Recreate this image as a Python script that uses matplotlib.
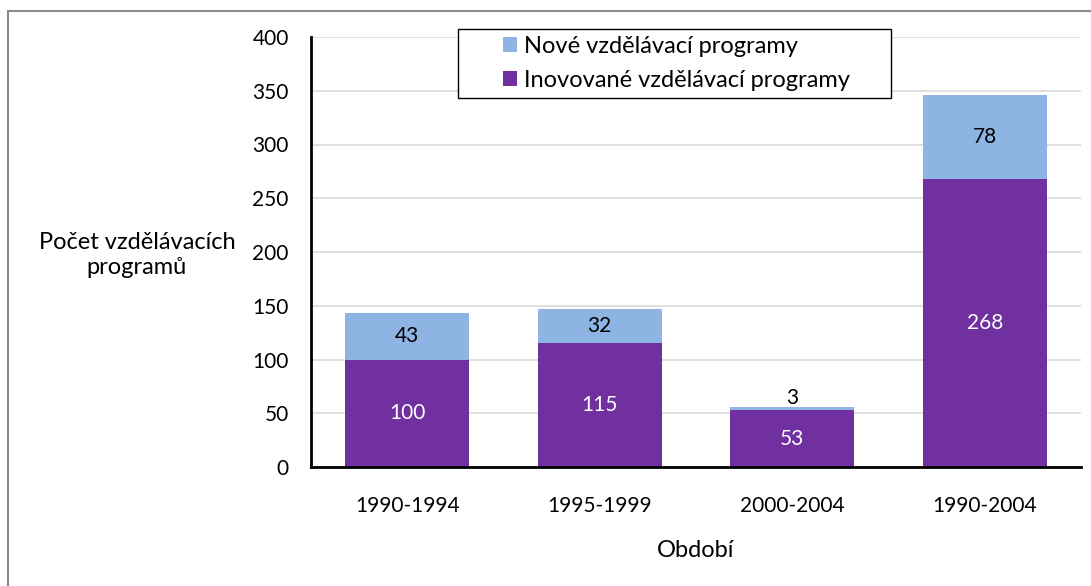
import matplotlib.pyplot as plt
from matplotlib.patches import Rectangle
import numpy as np

plt.rcParams['font.family'] = ['Lato', 'DejaVu Sans']

# data
obdobi = ['1990-1994', '1995-1999', '2000-2004', '1990-2004']
inovovane = [100, 115, 53, 268]
nove = [43, 32, 3, 78]

purple = '#7030A0'
blue = '#8EB4E3'
W, H = 1091, 586

fig = plt.figure(figsize=(W / 100, H / 100), dpi=100)
ax = fig.add_axes([311 / W, 1 - 467 / H, 770 / W, 430 / H])

x = np.arange(len(obdobi))
w = 0.645
b1 = ax.bar(x, inovovane, w, color=purple, label='Inovované vzdělávací programy', zorder=3)
b2 = ax.bar(x, nove, w, bottom=inovovane, color=blue, label='Nové vzdělávací programy', zorder=3)

for xi, lo, hi in zip(x, inovovane, nove):
    ax.text(xi, lo / 2, str(lo), ha='center', va='center', color='white', fontsize=15, zorder=4)
    if hi < 10:
        # too small to fit inside, Excel pushes it just above the bar
        ax.text(xi, lo + hi - 1.5, str(hi), ha='center', va='bottom', color='black', fontsize=15, zorder=4)
    else:
        ax.text(xi, lo + hi / 2, str(hi), ha='center', va='center', color='black', fontsize=15, zorder=4)

ax.set_xlim(-0.5, len(obdobi) - 0.5)
ax.set_ylim(0, 400)
ax.set_yticks(range(0, 401, 50))
ax.set_xticks(x)
ax.set_xticklabels(obdobi)
ax.tick_params(axis='both', length=0, labelsize=15)
ax.tick_params(axis='y', pad=16)
ax.tick_params(axis='x', pad=21)
ax.yaxis.grid(True, color='#D9D9D9', linewidth=1.2, zorder=0)
ax.set_axisbelow(True)

for s in ['top', 'right']:
    ax.spines[s].set_visible(False)
for s in ['left', 'bottom']:
    ax.spines[s].set_linewidth(2)
    ax.spines[s].set_color('black')
    ax.spines[s].set_zorder(5)

ax.set_xlabel('Období', fontsize=17, labelpad=17)
fig.text(137 / W, 1 - 255 / H, 'Počet vzdělávacích\nprogramů', ha='center', va='center',
         fontsize=17, linespacing=1.25)

# legend box drawn separately, entries placed inside it
fig.patches.append(Rectangle((458 / W, 1 - 98 / H), 433 / W, 69 / H, transform=fig.transFigure,
                             facecolor='white', edgecolor='black', linewidth=1, zorder=6))
leg = fig.legend(handles=[b2, b1], loc='upper left',
                 bbox_to_anchor=(503 / W, 1 - 36 / H), bbox_transform=fig.transFigure,
                 fontsize=17, frameon=False,
                 handlelength=0.6, handleheight=0.6, handletextpad=0.3, borderpad=0,
                 labelspacing=0.56, borderaxespad=0)
leg.set_zorder(7)

# outer chart border
fig.patches.append(Rectangle((8 / W, -0.1), 1.2, 1 - 11 / H + 0.1, transform=fig.transFigure,
                             fill=False, edgecolor='#8C8C8C', linewidth=1.5))

fig.savefig('out.png', dpi=100)
